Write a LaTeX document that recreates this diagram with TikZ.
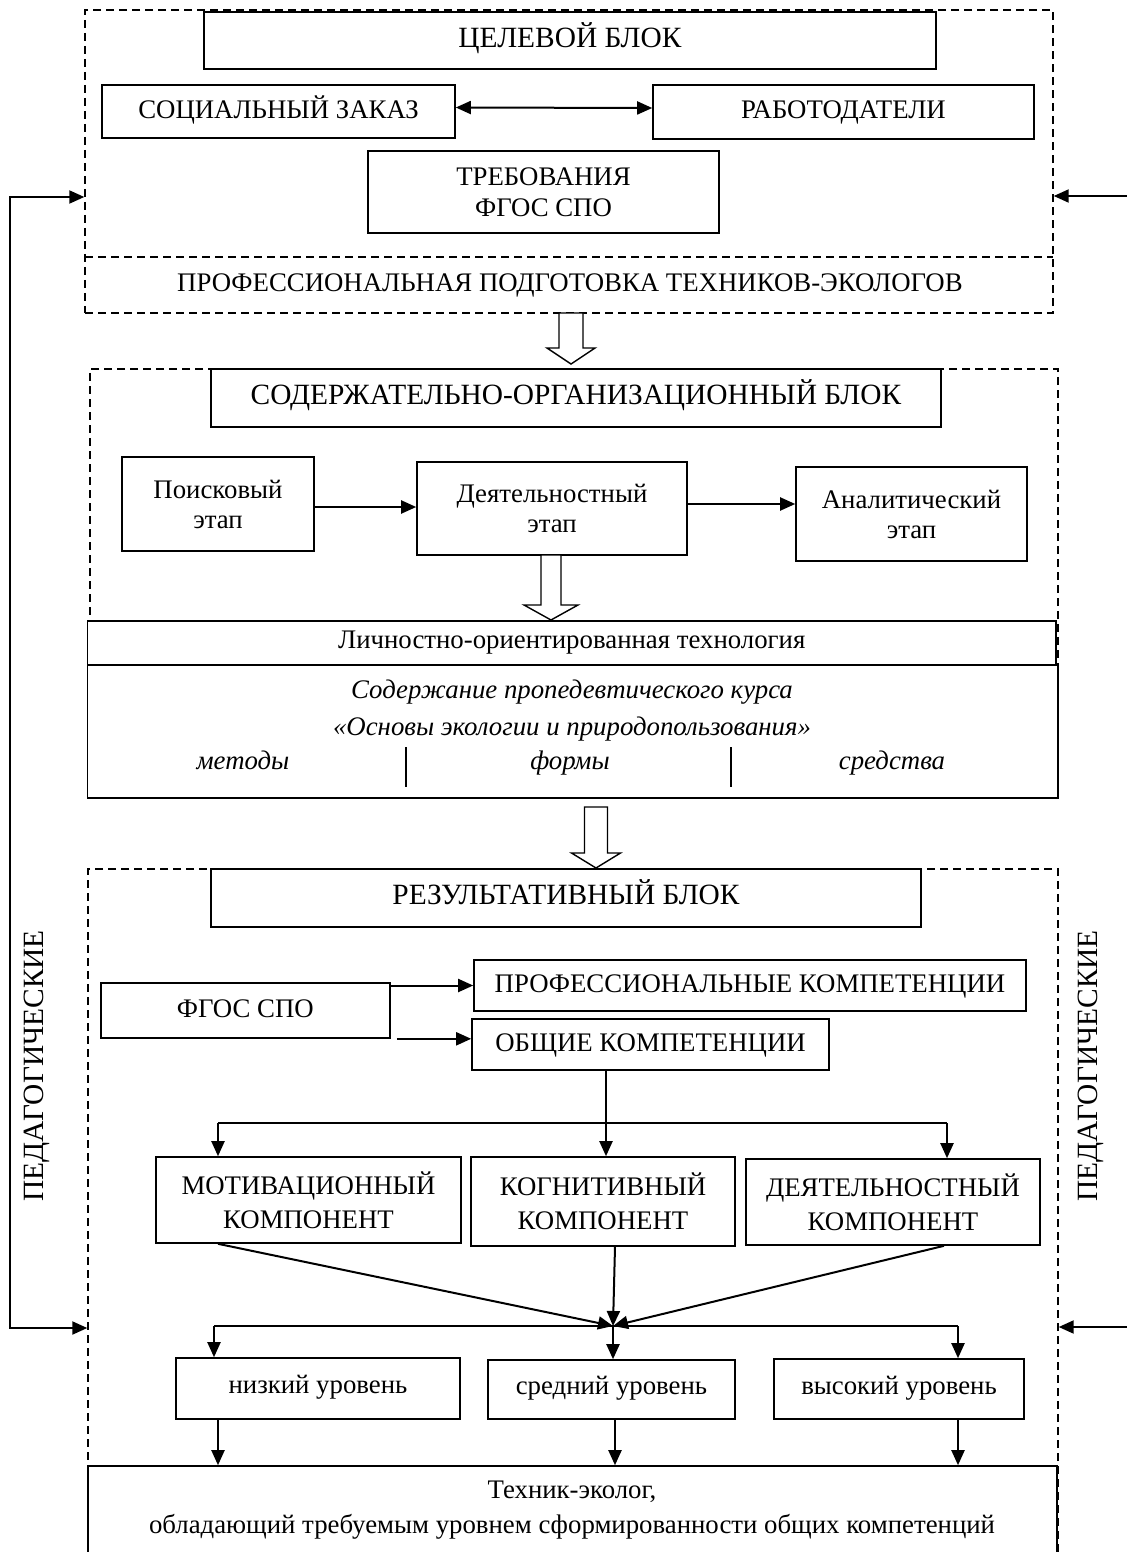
\documentclass[tikz,border=0pt]{standalone}
\usepackage{fontspec}
\setmainfont{Liberation Serif}
\usetikzlibrary{fit,arrows.meta,calc}
\newcommand\mainfs{\fontsize{13.4pt}{17pt}\selectfont}
\newcommand\hdfs{\fontsize{14.7pt}{17pt}\selectfont}
\newcommand\hollowarrow[6]{\draw[harrow] ({#1-#2},#4) -- ({#1-#2},#5) -- ({#1-#3},#5) -- (#1,#6) -- ({#1+#3},#5) -- ({#1+#2},#5) -- ({#1+#2},#4) -- cycle;}
\begin{document}
\begin{tikzpicture}[x=0.5pt,y=-0.5pt,
 box/.style={draw,line width=0.8pt,fill=white,inner sep=0pt,align=center,font=\mainfs},
 hdr/.style={box,font=\hdfs},
 caps/.style={text height=1.44ex,text depth=0pt},
 lower/.style={text height=1.1ex,text depth=0pt},
 dbox/.style={draw,line width=0.7pt,dash pattern=on 4pt off 2.5pt,inner sep=0pt},
 arr/.style={line width=1pt,-{Triangle[length=7.5pt,width=6.5pt]}},
 darr/.style={line width=1pt,{Triangle[length=7.5pt,width=6.5pt]}-{Triangle[length=7.5pt,width=6.5pt]}},
 ln/.style={line width=1pt},
 harrow/.style={draw,line width=0.7pt,fill=white},
 txt/.style={inner sep=0pt,align=center,font=\mainfs,text height=1.55ex,text depth=.3ex},
 sz/.style 2 args={minimum width=#1pt,minimum height=#2pt}]
\useasboundingbox (0,0) rectangle (1127,1552);
\clip (0,0) rectangle (1127,1552);

% ---------- block 1 ----------
\node[dbox,fit={(85,10) (1053,313)}] (blk1) {};
\draw[dbox] (85,257) -- (1053,257);
\node[hdr,caps,sz={366}{28.5}] (cel) at (570,40.5) {ЦЕЛЕВОЙ БЛОК};
\node[box,caps,sz={176.5}{26.5}] (soc) at (278.5,111.5) {СОЦИАЛЬНЫЙ ЗАКАЗ};
\node[box,caps,sz={190.5}{27}] (rab) at (843.5,112) {РАБОТОДАТЕЛИ};
\node[box,sz={175.5}{41},font=\fontsize{13.4pt}{15.5pt}\selectfont] (treb) at (543.5,192) {ТРЕБОВАНИЯ\\ФГОС СПО};
\node[txt,caps] (prof) at (570,285) {ПРОФЕССИОНАЛЬНАЯ ПОДГОТОВКА ТЕХНИКОВ-ЭКОЛОГОВ};
\draw[darr] ([yshift=2pt]soc.east) -- ([yshift=2pt]rab.west);

\hollowarrow{571}{12}{24}{313}{348}{364}

% ---------- block 2 ----------
\node[dbox,fit={(90,369) (1058,665)}] (blk2) {};
\node[hdr,caps,sz={365}{29}] (sod) at (576,398) {СОДЕРЖАТЕЛЬНО-ОРГАНИЗАЦИОННЫЙ БЛОК};
\node[box,sz={96}{47},font=\fontsize{13.4pt}{15pt}\selectfont] (poisk) at (218,504) {Поисковый\\этап};
\node[box,sz={135}{46.5},font=\fontsize{13.4pt}{15pt}\selectfont] (deyat) at (552,508.5) {Деятельностный\\этап};
\node[box,sz={115.5}{47},font=\fontsize{13.4pt}{15pt}\selectfont] (anal) at (911.5,514) {Аналитический\\этап};
\draw[arr] (poisk.east |- 0,507) -- (deyat.west |- 0,507);
\draw[arr] (deyat.east |- 0,504) -- (anal.west |- 0,504);

\hollowarrow{551}{10}{27}{555}{605}{620}

\node[box,lower,sz={484.25}{22}] (lich) at (571.75,643) {Личностно-ориентированная технология};
\node[box,sz={485.25}{66.5}] (cont) at (572.75,731.5) {};
\node[txt,font=\itshape\mainfs] (c1) at (572,693) {Содержание пропедевтического курса};
\node[txt,font=\itshape\mainfs] (c2) at (572,730) {«Основы экологии и природопользования»};
\node[txt,font=\itshape\mainfs] (m1) at (243,764) {методы};
\node[txt,font=\itshape\mainfs] (m2) at (570,764) {формы};
\node[txt,font=\itshape\mainfs] (m3) at (892,764) {средства};
\draw[line width=0.8pt] (406,747) -- (406,787);
\draw[line width=0.8pt] (731,747) -- (731,787);

\hollowarrow{596}{11.5}{24.5}{807}{853}{868}

% ---------- block 3 ----------
\node[dbox,fit={(88,869) (1058,1570)}] (blk3) {};
\node[hdr,caps,sz={355}{29}] (rez) at (566,898) {РЕЗУЛЬТАТИВНЫЙ БЛОК};
\node[box,caps,sz={144.65}{27.5}] (fgos) at (245.35,1010.5) {ФГОС СПО};
\node[box,caps,sz={276}{25.5}] (profk) at (750,985.5) {ПРОФЕССИОНАЛЬНЫЕ КОМПЕТЕНЦИИ};
\node[box,caps,sz={178.5}{25.5}] (obsh) at (650.5,1044.5) {ОБЩИЕ КОМПЕТЕНЦИИ};
\draw[arr] (fgos.east |- profk.west) -- (profk.west);
\draw[arr] ([xshift=3pt]fgos.south east) -- (obsh.west |- fgos.south east);

\node[box,sz={152.5}{43}] (mot) at (308.5,1200) {МОТИВАЦИОННЫЙ\\КОМПОНЕНТ};
\node[box,sz={132}{44.5}] (kogn) at (603,1201.5) {КОГНИТИВНЫЙ\\КОМПОНЕНТ};
\node[box,sz={147}{43}] (deyk) at (893,1202) {ДЕЯТЕЛЬНОСТНЫЙ\\КОМПОНЕНТ};

\coordinate (h1L) at (218,1123);
\coordinate (h1R) at (947,1123);
\draw[ln] (h1L) -- (h1R);
\draw[arr] (606,0 |- obsh.south) -- (606,0 |- kogn.north);
\draw[arr] (h1L) -- (h1L |- mot.north);
\draw[arr] (h1R) -- (h1R |- deyk.north);

\coordinate (conv) at (613,1326);
\draw[arr] (218,0 |- mot.south) -- (conv);
\draw[arr] (615,0 |- kogn.south) -- (conv);
\draw[arr] (944,0 |- deyk.south) -- (conv);

\node[box,lower,sz={142}{30.5}] (low) at (318,1388.5) {низкий уровень};
\node[box,lower,sz={123.5}{29.5}] (mid) at (611.5,1389.5) {средний уровень};
\node[box,lower,sz={125}{30}] (high) at (899,1389) {высокий уровень};

\coordinate (h2L) at (214,1326);
\coordinate (h2R) at (958,1326);
\draw[ln] (h2L) -- (h2R);
\draw[arr] (h2L) -- (h2L |- low.north);
\draw[arr] (conv) -- (conv |- mid.north);
\draw[arr] (h2R) -- (h2R |- high.north);

\node[box,sz={484.5}{52}] (tech) at (572.5,1518) {};
\node[inner sep=0pt,align=center,font=\fontsize{13.4pt}{17.5pt}\selectfont] (techtxt) at (572,1510) {Техник-эколог,\\обладающий требуемым уровнем сформированности общих компетенций};
\draw[arr] (218,0 |- low.south) -- (218,0 |- tech.north);
\draw[arr] (615,0 |- mid.south) -- (615,0 |- tech.north);
\draw[arr] (958,0 |- high.south) -- (958,0 |- tech.north);

% ---------- feedback ----------
\coordinate (fbTop) at (10,197);
\coordinate (fbBot) at (10,1328);
\draw[darr] (blk1.west |- fbTop) -- (fbTop) -- (fbBot) -- (blk3.west |- fbBot);
\coordinate (rTop) at (1127,196);
\coordinate (rBot) at (1127,1327);
\draw[arr] (rTop) -- (blk1.east |- rTop);
\draw[arr] (rBot) -- (blk3.east |- rBot);

\node[txt,rotate=90,font=\hdfs] (pedL) at (37.5,1066) {ПЕДАГОГИЧЕСКИЕ};
\node[txt,rotate=90,font=\hdfs] (pedR) at (1092,1066) {ПЕДАГОГИЧЕСКИЕ};
\end{tikzpicture}
\end{document}
